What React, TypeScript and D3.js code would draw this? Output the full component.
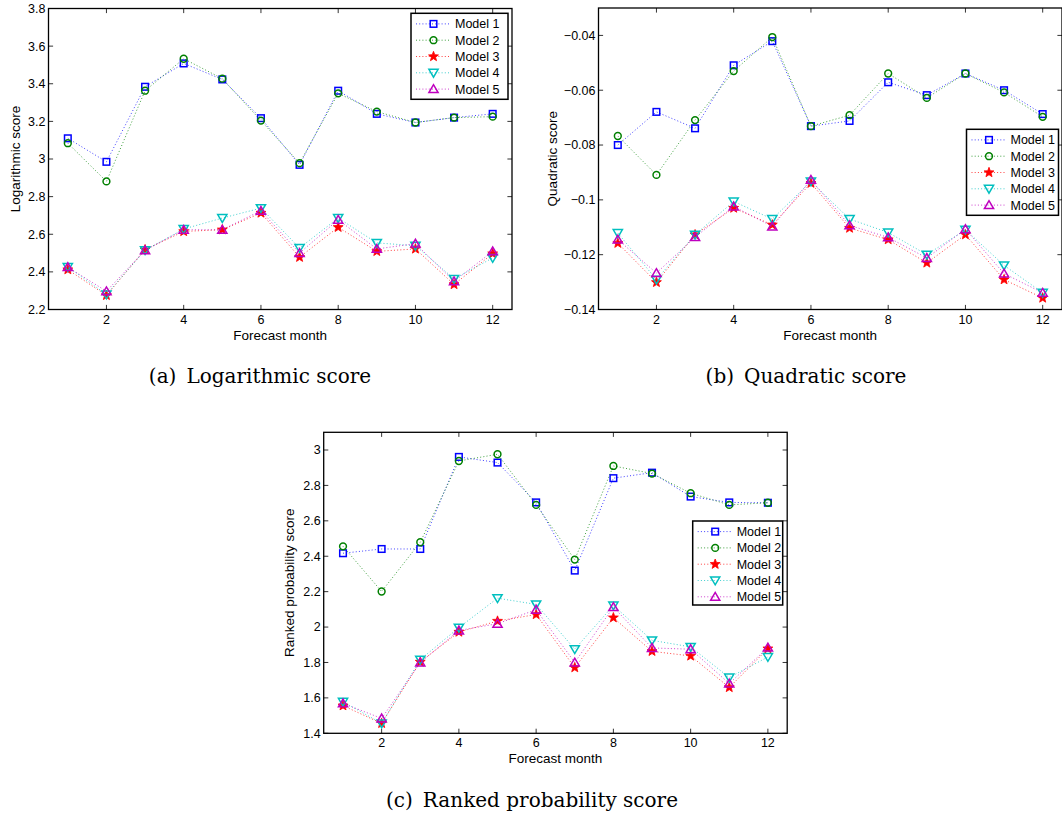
import React from "react";
import * as d3 from "d3";

// ---------- data ----------
const months = [1, 2, 3, 4, 5, 6, 7, 8, 9, 10, 11, 12];
const xTicks = [2, 4, 6, 8, 10, 12];
const modelNames = ["Model 1", "Model 2", "Model 3", "Model 4", "Model 5"];

// (a) Logarithmic score
const logModel1 = [3.11, 2.985, 3.384, 3.508, 3.423, 3.217, 2.969, 3.363, 3.24, 3.194, 3.22, 3.24];
const logModel2 = [3.084, 2.881, 3.363, 3.533, 3.427, 3.204, 2.978, 3.349, 3.252, 3.194, 3.22, 3.225];
const logModel3 = [2.412, 2.275, 2.518, 2.615, 2.624, 2.713, 2.478, 2.637, 2.509, 2.522, 2.333, 2.497];
const logModel4 = [2.426, 2.28, 2.515, 2.628, 2.686, 2.739, 2.527, 2.686, 2.554, 2.539, 2.363, 2.474];
const logModel5 = [2.425, 2.297, 2.515, 2.624, 2.624, 2.725, 2.5, 2.677, 2.522, 2.55, 2.35, 2.509];
const logTicks = [2.2, 2.4, 2.6, 2.8, 3, 3.2, 3.4, 3.6, 3.8];

// (b) Quadratic score
const quadModel1 = [-0.08, -0.0679, -0.0739, -0.0509, -0.0421, -0.0731, -0.0712, -0.0571, -0.0618, -0.0539, -0.06, -0.0687];
const quadModel2 = [-0.0767, -0.0909, -0.0709, -0.053, -0.0406, -0.0731, -0.0691, -0.0539, -0.0628, -0.0539, -0.0608, -0.0697];
const quadModel3 = [-0.1158, -0.1301, -0.1127, -0.103, -0.1091, -0.0939, -0.1103, -0.1145, -0.123, -0.1127, -0.1291, -0.1358];
const quadModel4 = [-0.1121, -0.1291, -0.1127, -0.1006, -0.107, -0.0933, -0.107, -0.1119, -0.12, -0.1109, -0.1239, -0.1339];
const quadModel5 = [-0.1145, -0.1267, -0.1136, -0.1024, -0.1097, -0.0927, -0.1093, -0.1137, -0.1212, -0.1107, -0.1269, -0.1339];
const quadTicks = [-0.14, -0.12, -0.1, -0.08, -0.06, -0.04];

// (c) Ranked probability score
const rpsModel1 = [2.417, 2.441, 2.441, 2.961, 2.929, 2.704, 2.319, 2.841, 2.872, 2.737, 2.704, 2.702];
const rpsModel2 = [2.456, 2.201, 2.479, 2.938, 2.976, 2.69, 2.381, 2.91, 2.867, 2.756, 2.69, 2.702];
const rpsModel3 = [1.556, 1.456, 1.803, 1.972, 2.034, 2.071, 1.771, 2.053, 1.863, 1.837, 1.659, 1.878];
const rpsModel4 = [1.578, 1.456, 1.816, 1.997, 2.163, 2.128, 1.875, 2.122, 1.925, 1.888, 1.715, 1.831];
const rpsModel5 = [1.569, 1.484, 1.8, 1.981, 2.019, 2.098, 1.8, 2.113, 1.882, 1.875, 1.681, 1.884];
const rpsTicks = [1.4, 1.6, 1.8, 2, 2.2, 2.4, 2.6, 2.8, 3];

// ---------- styles ----------
const colors = ["#0000ff", "#008000", "#ff0000", "#00bfbf", "#bf00bf"];
const markerKinds = ["square", "circle", "star", "tdown", "tup"];
const SANS = "'Liberation Sans', Arial, Helvetica, sans-serif";
const SERIF = "'DejaVu Serif', 'Liberation Serif', serif";

function Marker({ kind, x, y, color }: { kind: string; x: number; y: number; color: string }) {
  const sw = 1.5;
  if (kind === "square") {
    const s = 3.3;
    return <rect x={x - s} y={y - s} width={2 * s} height={2 * s} fill="none" stroke={color} strokeWidth={sw} />;
  }
  if (kind === "circle") {
    return <circle cx={x} cy={y} r={3.4} fill="none" stroke={color} strokeWidth={sw} />;
  }
  if (kind === "star") {
    const pts: string[] = [];
    for (let i = 0; i < 10; i++) {
      const r = i % 2 === 0 ? 5.2 : 2.2;
      const a = -Math.PI / 2 + (i * Math.PI) / 5;
      pts.push(`${x + r * Math.cos(a)},${y + r * Math.sin(a)}`);
    }
    return <polygon points={pts.join(" ")} fill={color} stroke={color} strokeWidth={0.8} />;
  }
  if (kind === "tdown") {
    const r = 4.6;
    const p = `${x - r},${y - r * 0.75} ${x + r},${y - r * 0.75} ${x},${y + r * 0.95}`;
    return <polygon points={p} fill="none" stroke={color} strokeWidth={sw} />;
  }
  const r = 4.6;
  const p = `${x - r},${y + r * 0.75} ${x + r},${y + r * 0.75} ${x},${y - r * 0.95}`;
  return <polygon points={p} fill="none" stroke={color} strokeWidth={sw} />;
}

type PanelProps = {
  left: number;
  top: number;
  width: number;
  height: number;
  yDomain: [number, number];
  yTicks: number[];
  yLabel: string;
  yLabelX: number;
  series: number[][];
  legend: { x: number; y: number; w: number; h: number };
  caption: [string, string];
  captionX: number;
  captionY: number;
};

function Panel(p: PanelProps) {
  const x = d3.scaleLinear().domain([0.5, 12.5]).range([p.left, p.left + p.width]);
  const y = d3.scaleLinear().domain(p.yDomain).range([p.top + p.height, p.top]);
  const fmt = d3.format("~g");
  const tl = 4.6;
  const bottom = p.top + p.height;
  const right = p.left + p.width;
  const line = d3
    .line<number>()
    .x((_, i) => x(months[i]))
    .y((d) => y(d));
  const rowGap = 16.3;
  return (
    <g>
      {xTicks.map((t) => (
        <g key={"x" + t}>
          <line x1={x(t)} x2={x(t)} y1={bottom} y2={bottom - tl} stroke="#000" strokeWidth={0.8} />
          <line x1={x(t)} x2={x(t)} y1={p.top} y2={p.top + tl} stroke="#000" strokeWidth={0.8} />
          <text x={x(t)} y={bottom + 14} textAnchor="middle" fontFamily={SANS} fontSize={12.5} fill="#000">
            {fmt(t)}
          </text>
        </g>
      ))}
      {p.yTicks.map((t) => (
        <g key={"y" + t}>
          <line x1={p.left} x2={p.left + tl} y1={y(t)} y2={y(t)} stroke="#000" strokeWidth={0.8} />
          <line x1={right} x2={right - tl} y1={y(t)} y2={y(t)} stroke="#000" strokeWidth={0.8} />
          <text x={p.left - 3} y={y(t)} dy="0.35em" textAnchor="end" fontFamily={SANS} fontSize={12.5} fill="#000">
            {fmt(t)}
          </text>
        </g>
      ))}
      {p.series.map((s, si) => (
        <g key={"s" + si}>
          <path d={line(s) || ""} fill="none" stroke={colors[si]} strokeWidth={1} strokeDasharray="1 2.2" opacity={0.75} />
          {s.map((v, i) => (
            <Marker key={i} kind={markerKinds[si]} x={x(months[i])} y={y(v)} color={colors[si]} />
          ))}
        </g>
      ))}
      <rect x={p.left} y={p.top} width={p.width} height={p.height} fill="none" stroke="#000" strokeWidth={1.3} />
      <text x={(p.left + right) / 2} y={bottom + 30} textAnchor="middle" fontFamily={SANS} fontSize={13.5} fill="#000">
        Forecast month
      </text>
      <text
        transform={`translate(${p.yLabelX},${p.top + p.height / 2}) rotate(-90)`}
        textAnchor="middle"
        dy="0.35em"
        fontFamily={SANS}
        fontSize={13.5}
        fill="#000"
      >
        {p.yLabel}
      </text>
      <g>
        <rect x={p.legend.x} y={p.legend.y} width={p.legend.w} height={p.legend.h} fill="#fff" stroke="#000" strokeWidth={1.5} />
        {modelNames.map((n, i) => {
          const ry = p.legend.y + 10.6 + i * rowGap;
          return (
            <g key={n}>
              <line
                x1={p.legend.x + 5}
                x2={p.legend.x + 40}
                y1={ry}
                y2={ry}
                stroke={colors[i]}
                strokeWidth={1}
                strokeDasharray="1 2.2"
                opacity={0.75}
              />
              <Marker kind={markerKinds[i]} x={p.legend.x + 22.5} y={ry} color={colors[i]} />
              <text x={p.legend.x + 44} y={ry} dy="0.36em" fontFamily={SANS} fontSize={12.5} fill="#000">
                {n}
              </text>
            </g>
          );
        })}
      </g>
      <text x={p.captionX} y={p.captionY} textAnchor="middle" fontFamily={SERIF} fontSize={20} fill="#000">
        {p.caption[0]}
        <tspan dx={10}>{p.caption[1]}</tspan>
      </text>
    </g>
  );
}

export default function App() {
  return (
    <svg width={1062} height={816} style={{ position: "absolute", left: 0, top: 0, background: "#fff" }}>
      <rect x={0} y={0} width={1062} height={816} fill="#fff" />
      <Panel
        left={48.5}
        top={8.5}
        width={463.5}
        height={301}
        yDomain={[2.2, 3.8]}
        yTicks={logTicks}
        yLabel="Logarithmic score"
        yLabelX={15}
        series={[logModel1, logModel2, logModel3, logModel4, logModel5]}
        legend={{ x: 411, y: 13.3, w: 97, h: 86 }}
        caption={["(a)", "Logarithmic score"]}
        captionX={260}
        captionY={383}
      />
      <Panel
        left={598.5}
        top={8}
        width={463.5}
        height={301.5}
        yDomain={[-0.14, -0.03]}
        yTicks={quadTicks}
        yLabel="Quadratic score"
        yLabelX={552}
        series={[quadModel1, quadModel2, quadModel3, quadModel4, quadModel5]}
        legend={{ x: 966.5, y: 129.3, w: 92, h: 86 }}
        caption={["(b)", "Quadratic score"]}
        captionX={806}
        captionY={383}
      />
      <Panel
        left={323.7}
        top={432.3}
        width={463.5}
        height={301}
        yDomain={[1.4, 3.1]}
        yTicks={rpsTicks}
        yLabel="Ranked probability score"
        yLabelX={289}
        series={[rpsModel1, rpsModel2, rpsModel3, rpsModel4, rpsModel5]}
        legend={{ x: 692.7, y: 521, w: 90, h: 84 }}
        caption={["(c)", "Ranked probability score"]}
        captionX={532}
        captionY={807}
      />
    </svg>
  );
}
